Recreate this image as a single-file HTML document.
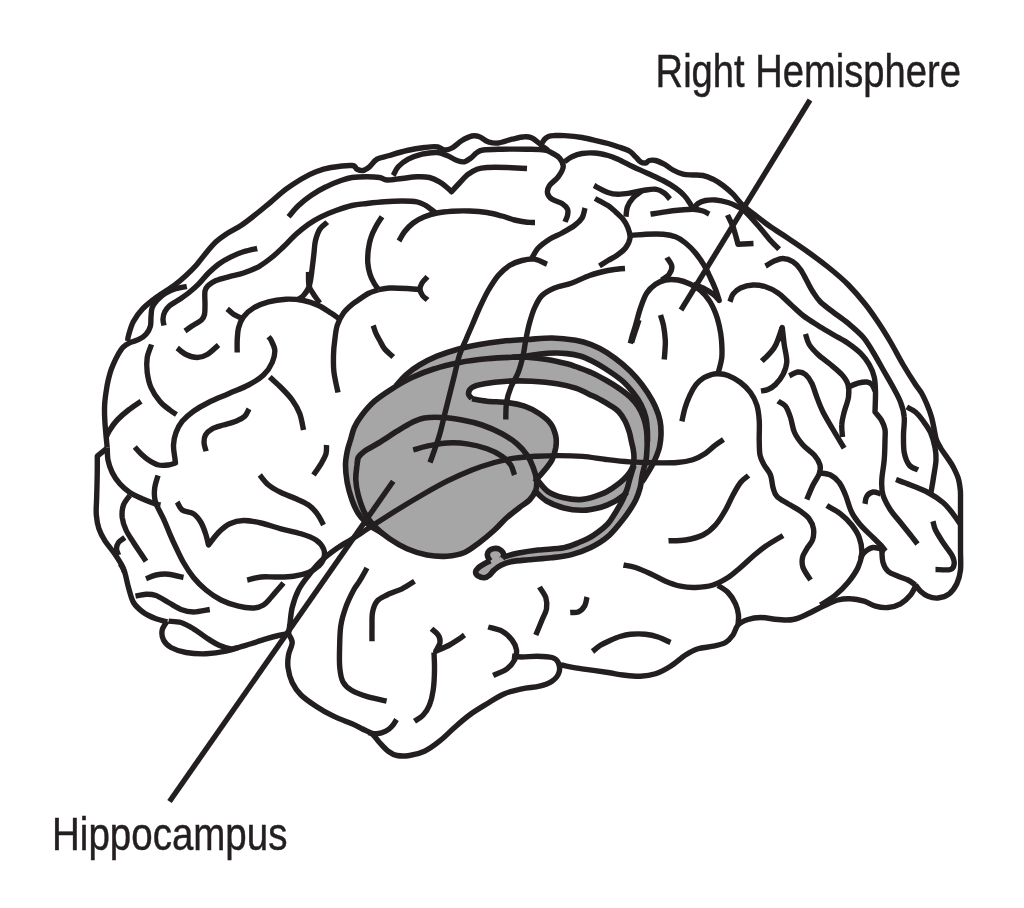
<!DOCTYPE html>
<html><head><meta charset="utf-8"><title>Brain</title>
<style>html,body{margin:0;padding:0;background:#fff}svg{display:block;will-change:transform}text{font-family:"Liberation Sans",sans-serif;fill:#231f20}</style></head><body>
<svg width="1024" height="908" viewBox="0 0 1024 908">
<rect width="1024" height="908" fill="#fff"/>
<path d="M395.8 386.2C398.0 384.0 401.8 378.5 405.8 375.0C409.7 371.5 414.3 368.1 419.5 365.0C424.7 361.9 430.8 358.8 437.0 356.2C443.2 353.7 449.9 351.5 457.0 349.5C464.1 347.5 472.0 345.9 479.5 344.5C487.0 343.1 494.1 342.1 502.0 341.2C509.9 340.4 518.7 340.0 527.0 339.5C535.3 339.0 543.9 337.9 552.0 338.0C560.1 338.1 569.1 339.2 575.6 340.3C582.1 341.4 586.0 342.6 591.2 344.6C596.5 346.7 601.7 349.3 606.9 352.6C612.1 355.9 617.6 360.0 622.5 364.2C627.4 368.4 632.3 373.1 636.5 377.8C640.7 382.5 644.4 387.7 647.5 392.5C650.6 397.3 653.2 401.8 655.3 406.5C657.4 411.2 659.0 415.9 660.0 420.6C661.0 425.3 661.1 430.3 661.0 434.7C660.9 439.1 660.2 443.6 659.5 447.0C658.8 450.4 657.9 452.4 656.9 455.0C655.9 457.6 654.7 460.3 653.4 462.9C652.1 465.5 650.5 468.3 649.0 470.8C647.5 473.3 645.8 476.0 644.6 477.9C643.4 479.8 642.5 482.1 642.0 482.0C641.5 481.9 641.6 479.2 641.9 477.0C642.2 474.8 643.0 471.8 643.7 469.0C644.4 466.2 645.5 463.0 646.0 460.2C646.5 457.4 646.5 455.0 646.8 452.0C647.0 449.0 647.4 445.7 647.5 442.0C647.6 438.3 647.6 434.1 647.3 430.0C647.0 425.9 646.8 421.7 645.8 417.5C644.8 413.3 643.3 409.1 641.2 405.0C639.2 400.9 636.5 397.0 633.4 393.0C630.3 389.0 627.2 385.1 622.5 381.0C617.8 376.9 610.1 371.8 605.0 368.5C599.9 365.2 596.2 363.1 592.0 361.0C587.8 358.9 584.2 357.2 580.0 356.0C575.8 354.8 571.2 354.1 567.0 353.6C562.8 353.1 559.5 352.9 555.0 353.0C550.5 353.1 544.7 353.5 540.0 354.0C535.3 354.5 531.7 355.4 527.0 356.0C522.3 356.6 514.5 357.1 512.0 357.3C509.5 357.5 516.2 357.1 512.0 357.3C507.8 357.5 495.8 357.9 487.0 358.8C478.2 359.6 468.2 360.8 459.5 362.5C450.8 364.2 442.4 366.2 434.5 368.8C426.6 371.2 419.1 374.2 412.0 377.5C404.9 380.8 394.7 387.3 392.0 388.8C389.3 390.2 393.5 388.5 395.8 386.2Z" fill="#a6a6a6" stroke="none"/>
<path d="M382.0 533.0C385.0 541.1 376.7 530.2 374.0 528.5C371.3 526.8 368.7 525.1 366.0 522.5C363.3 519.9 360.3 516.8 358.0 513.0C355.7 509.2 353.8 505.1 352.0 500.0C350.2 494.9 348.3 488.3 347.2 482.5C346.2 476.7 345.5 470.2 345.5 465.0C345.5 459.8 346.5 455.2 347.3 451.0C348.1 446.8 350.0 441.8 350.5 440.0C351.0 438.2 349.9 442.1 350.5 440.0C351.1 437.9 352.4 431.7 354.3 427.5C356.2 423.3 358.6 419.4 362.0 415.0C365.4 410.6 369.5 405.6 374.5 401.2C379.5 396.9 385.8 392.7 392.0 388.8C398.2 384.8 404.9 380.8 412.0 377.5C419.1 374.2 426.6 371.2 434.5 368.8C442.4 366.2 450.8 364.2 459.5 362.5C468.2 360.8 478.2 359.6 487.0 358.8C495.8 357.9 505.3 357.5 512.0 357.3C518.7 357.1 521.2 356.9 527.0 357.3C532.8 357.7 540.3 358.4 547.0 359.5C553.7 360.6 562.2 362.6 567.0 363.8C571.8 364.9 571.6 365.0 575.6 366.5C579.6 368.0 586.0 370.1 591.2 372.5C596.5 374.9 602.2 378.1 606.9 380.8C611.6 383.5 615.5 385.9 619.4 388.6C623.3 391.3 627.2 394.2 630.3 397.2C633.4 400.2 635.9 403.1 638.1 406.5C640.3 409.9 642.1 413.6 643.5 417.5C644.9 421.4 645.9 425.8 646.5 430.0C647.1 434.2 647.2 438.8 647.2 442.5C647.2 446.2 647.0 449.1 646.8 452.0C646.6 454.9 646.5 457.4 646.0 460.2C645.5 463.0 644.4 466.2 643.7 469.0C643.0 471.8 642.5 473.9 641.9 477.0C641.3 480.1 641.2 483.7 640.2 487.5C639.2 491.3 637.6 496.1 635.8 499.9C634.0 503.7 631.8 507.0 629.6 510.4C627.4 513.8 626.3 515.6 622.6 520.0C618.9 524.4 612.9 532.3 607.5 536.9C602.1 541.5 596.3 544.8 590.3 547.8C584.3 550.8 578.1 552.9 571.6 554.6C565.1 556.3 558.5 556.9 551.2 557.8C544.0 558.7 535.1 559.1 528.4 559.8C521.7 560.4 515.4 560.8 510.8 561.7C506.2 562.6 503.8 563.8 501.0 565.2C498.2 566.6 496.1 568.3 494.2 570.0C492.2 571.7 490.9 574.1 489.3 575.4C487.7 576.7 486.3 577.7 484.4 577.8C482.5 577.9 479.5 576.9 478.0 575.9C476.5 574.9 475.5 573.4 475.6 572.0C475.7 570.6 477.0 569.0 478.5 567.6C480.0 566.2 482.4 564.8 484.4 563.7C486.4 562.6 489.3 561.3 490.3 560.8C491.3 560.3 490.6 561.2 490.3 560.8C490.0 560.4 489.0 559.6 488.5 558.5C488.0 557.4 487.2 555.7 487.3 554.4C487.4 553.1 488.2 551.5 489.3 550.5C490.4 549.5 492.6 548.8 494.2 548.5C495.8 548.2 497.5 548.3 499.0 549.0C500.5 549.7 502.2 551.2 503.0 552.5C503.8 553.8 503.8 556.2 504.0 556.9C504.2 557.6 501.6 557.5 504.0 556.9C506.4 556.2 512.9 554.1 518.6 553.0C524.3 551.9 530.6 550.9 538.1 550.0C545.6 549.1 556.9 549.1 563.8 547.8C570.6 546.5 574.5 544.4 579.4 542.3C584.3 540.2 588.7 538.3 593.4 535.3C598.1 532.2 603.9 527.8 607.6 524.0C611.3 520.2 613.0 516.4 615.5 512.4C618.0 508.4 620.7 503.8 622.6 499.9C624.5 496.0 625.8 492.7 627.0 489.3C628.2 485.9 628.7 482.7 629.6 479.6C630.5 476.5 631.6 473.2 632.3 470.8C633.0 468.4 634.5 464.0 634.0 465.5C633.5 467.0 630.8 475.6 629.6 479.6C628.4 483.6 627.4 487.2 627.0 489.3C626.6 491.4 627.6 491.0 627.0 492.0C626.4 493.0 625.6 493.9 623.5 495.5C621.4 497.1 618.3 499.7 614.6 501.6C610.9 503.6 606.6 505.8 601.2 507.2C595.9 508.6 588.8 510.2 582.5 510.3C576.2 510.4 569.7 509.6 563.8 508.0C557.8 506.4 551.3 503.8 546.6 501.0C541.9 498.2 537.3 493.3 535.5 491.5C533.7 489.7 536.8 488.6 535.8 490.0C534.8 491.4 532.2 497.1 529.5 500.0C526.8 502.9 523.2 504.6 519.5 507.5C515.8 510.4 511.2 513.8 507.0 517.5C502.8 521.2 499.1 525.8 494.5 530.0C489.9 534.2 484.5 538.8 479.5 542.5C474.5 546.2 469.9 550.2 464.5 552.5C459.1 554.8 453.2 555.8 447.0 556.2C440.8 556.7 433.7 556.2 427.0 555.0C420.3 553.8 413.2 551.5 407.0 548.8C400.8 546.0 394.9 542.5 389.5 538.8C384.1 535.0 378.7 530.6 374.5 526.2C370.3 521.9 367.2 517.7 364.5 512.5C361.8 507.3 359.7 500.4 358.2 495.0C356.8 489.6 351.8 473.7 355.8 480.0C359.7 486.3 379.0 524.9 382.0 533.0Z" fill="#a6a6a6" stroke="none"/>
<path d="M472.0 398.8C471.4 397.9 468.5 395.6 468.5 393.8C468.5 391.9 469.3 389.2 472.0 387.5C474.7 385.8 478.7 384.8 484.5 383.8C490.3 382.7 499.1 381.7 507.0 381.2C514.9 380.8 523.7 380.8 532.0 381.2C540.3 381.7 549.7 382.6 557.0 383.8C564.3 384.9 569.9 386.3 575.6 388.2C581.3 390.1 587.0 393.2 591.2 395.2C595.5 397.2 597.9 398.3 601.0 400.0C604.1 401.7 607.1 403.4 610.0 405.3C612.9 407.2 616.0 408.9 618.5 411.5C621.0 414.1 623.2 417.6 625.0 421.0C626.8 424.4 628.2 428.7 629.3 432.0C630.3 435.3 630.7 438.2 631.3 441.0C631.9 443.8 632.6 446.0 633.1 448.8C633.6 451.6 634.0 454.8 634.0 457.6C634.0 460.4 633.8 463.0 633.1 465.5C632.4 468.0 631.2 470.2 629.6 472.6C628.0 475.0 626.0 477.2 623.5 479.6C621.0 482.0 618.3 484.3 614.6 486.7C610.9 489.1 606.6 492.1 601.2 494.2C595.9 496.3 588.8 498.8 582.5 499.4C576.2 500.0 569.5 499.1 563.8 497.8C558.0 496.5 552.2 494.4 548.0 491.6C543.8 488.8 539.9 483.4 538.2 481.0C536.6 478.6 537.0 479.5 538.2 477.5C539.5 475.5 543.5 471.7 545.8 468.8C548.0 465.8 550.3 463.5 552.0 460.0C553.7 456.5 555.1 451.5 555.8 447.5C556.4 443.5 556.6 440.2 555.8 436.2C554.9 432.3 553.5 427.5 550.8 423.8C548.0 420.0 543.9 416.7 539.5 413.8C535.1 410.8 529.9 408.1 524.5 406.2C519.1 404.4 513.2 403.3 507.0 402.5C500.8 401.7 492.8 401.9 487.0 401.2C481.2 400.6 474.5 399.2 472.0 398.8C469.5 398.3 472.6 399.6 472.0 398.8Z" fill="#ffffff" stroke="none"/>
<g fill="none" stroke="#231f20" stroke-width="5.4" stroke-linecap="butt" stroke-linejoin="round">
<path d="M395.8 386.2C397.4 384.4 401.8 378.5 405.8 375.0C409.7 371.5 414.3 368.1 419.5 365.0C424.7 361.9 430.8 358.8 437.0 356.2C443.2 353.7 449.9 351.5 457.0 349.5C464.1 347.5 472.0 345.9 479.5 344.5C487.0 343.1 494.1 342.1 502.0 341.2C509.9 340.4 518.7 340.0 527.0 339.5C535.3 339.0 543.9 337.9 552.0 338.0C560.1 338.1 569.1 339.2 575.6 340.3C582.1 341.4 586.0 342.6 591.2 344.6C596.5 346.7 601.7 349.3 606.9 352.6C612.1 355.9 617.6 360.0 622.5 364.2C627.4 368.4 632.3 373.1 636.5 377.8C640.7 382.5 644.4 387.7 647.5 392.5C650.6 397.3 653.2 401.8 655.3 406.5C657.4 411.2 659.0 415.9 660.0 420.6C661.0 425.3 661.1 430.3 661.0 434.7C660.9 439.1 660.2 443.6 659.5 447.0C658.8 450.4 657.9 452.4 656.9 455.0C655.9 457.6 654.7 460.3 653.4 462.9C652.1 465.5 650.5 468.3 649.0 470.8C647.5 473.3 645.8 476.0 644.6 477.9C643.4 479.8 642.4 481.3 642.0 482.0" stroke-width="5.6"/>
<path d="M512.0 357.3C514.5 357.1 522.3 356.6 527.0 356.0C531.7 355.4 535.3 354.5 540.0 354.0C544.7 353.5 550.5 353.1 555.0 353.0C559.5 352.9 562.8 353.1 567.0 353.6C571.2 354.1 575.8 354.8 580.0 356.0C584.2 357.2 587.8 358.9 592.0 361.0C596.2 363.1 599.9 365.2 605.0 368.5C610.1 371.8 617.8 376.9 622.5 381.0C627.2 385.1 630.3 389.0 633.4 393.0C636.5 397.0 639.2 400.9 641.2 405.0C643.3 409.1 644.8 413.3 645.8 417.5C646.8 421.7 647.0 425.9 647.3 430.0C647.6 434.1 647.5 440.0 647.5 442.0" stroke-width="5.6"/>
<path d="M382.0 533.0C380.7 532.2 376.7 530.2 374.0 528.5C371.3 526.8 368.7 525.1 366.0 522.5C363.3 519.9 360.3 516.8 358.0 513.0C355.7 509.2 353.8 505.1 352.0 500.0C350.2 494.9 348.3 488.3 347.2 482.5C346.2 476.7 345.5 470.2 345.5 465.0C345.5 459.8 346.5 455.2 347.3 451.0C348.1 446.8 349.3 443.9 350.5 440.0C351.7 436.1 352.4 431.7 354.3 427.5C356.2 423.3 358.6 419.4 362.0 415.0C365.4 410.6 369.5 405.6 374.5 401.2C379.5 396.9 385.8 392.7 392.0 388.8C398.2 384.8 404.9 380.8 412.0 377.5C419.1 374.2 426.6 371.2 434.5 368.8C442.4 366.2 450.8 364.2 459.5 362.5C468.2 360.8 478.2 359.6 487.0 358.8C495.8 357.9 505.3 357.5 512.0 357.3C518.7 357.1 521.2 356.9 527.0 357.3C532.8 357.7 540.3 358.4 547.0 359.5C553.7 360.6 562.2 362.6 567.0 363.8C571.8 364.9 571.6 365.0 575.6 366.5C579.6 368.0 586.0 370.1 591.2 372.5C596.5 374.9 602.2 378.1 606.9 380.8C611.6 383.5 615.5 385.9 619.4 388.6C623.3 391.3 627.2 394.2 630.3 397.2C633.4 400.2 635.9 403.1 638.1 406.5C640.3 409.9 642.1 413.6 643.5 417.5C644.9 421.4 645.9 425.8 646.5 430.0C647.1 434.2 647.2 438.8 647.2 442.5C647.2 446.2 647.0 449.1 646.8 452.0C646.6 454.9 646.5 457.4 646.0 460.2C645.5 463.0 644.4 466.2 643.7 469.0C643.0 471.8 642.5 473.9 641.9 477.0C641.3 480.1 641.2 483.7 640.2 487.5C639.2 491.3 637.6 496.1 635.8 499.9C634.0 503.7 631.8 507.0 629.6 510.4C627.4 513.8 626.3 515.6 622.6 520.0C618.9 524.4 612.9 532.3 607.5 536.9C602.1 541.5 596.3 544.8 590.3 547.8C584.3 550.8 578.1 552.9 571.6 554.6C565.1 556.3 558.5 556.9 551.2 557.8C544.0 558.7 535.1 559.1 528.4 559.8C521.7 560.4 515.4 560.8 510.8 561.7C506.2 562.6 503.8 563.8 501.0 565.2C498.2 566.6 496.1 568.3 494.2 570.0C492.2 571.7 490.9 574.1 489.3 575.4C487.7 576.7 486.3 577.7 484.4 577.8C482.5 577.9 479.5 576.9 478.0 575.9C476.5 574.9 475.5 573.4 475.6 572.0C475.7 570.6 477.0 569.0 478.5 567.6C480.0 566.2 482.4 564.8 484.4 563.7C486.4 562.6 489.3 561.3 490.3 560.8" stroke-width="5.6"/>
<path d="M490.3 560.8C490.0 560.4 489.0 559.6 488.5 558.5C488.0 557.4 487.2 555.7 487.3 554.4C487.4 553.1 488.2 551.5 489.3 550.5C490.4 549.5 492.6 548.8 494.2 548.5C495.8 548.2 497.5 548.3 499.0 549.0C500.5 549.7 502.2 551.2 503.0 552.5C503.8 553.8 503.8 556.2 504.0 556.9" stroke-width="5.6"/>
<path d="M502.5 558.5C502.8 558.2 501.3 557.8 504.0 556.9C506.7 556.0 512.9 554.1 518.6 553.0C524.3 551.9 530.6 550.9 538.1 550.0C545.6 549.1 556.9 549.1 563.8 547.8C570.6 546.5 574.5 544.4 579.4 542.3C584.3 540.2 588.7 538.3 593.4 535.3C598.1 532.2 603.9 527.8 607.6 524.0C611.3 520.2 613.0 516.4 615.5 512.4C618.0 508.4 620.7 503.8 622.6 499.9C624.5 496.0 625.8 492.7 627.0 489.3C628.2 485.9 628.7 482.7 629.6 479.6C630.5 476.5 631.6 473.2 632.3 470.8C633.0 468.4 633.7 466.4 634.0 465.5" stroke-width="5.6"/>
<path d="M472.0 398.8C471.4 397.9 468.5 395.6 468.5 393.8C468.5 391.9 469.3 389.2 472.0 387.5C474.7 385.8 478.7 384.8 484.5 383.8C490.3 382.7 499.1 381.7 507.0 381.2C514.9 380.8 523.7 380.8 532.0 381.2C540.3 381.7 549.7 382.6 557.0 383.8C564.3 384.9 569.9 386.3 575.6 388.2C581.3 390.1 587.0 393.2 591.2 395.2C595.5 397.2 597.9 398.3 601.0 400.0C604.1 401.7 607.1 403.4 610.0 405.3C612.9 407.2 616.0 408.9 618.5 411.5C621.0 414.1 623.2 417.6 625.0 421.0C626.8 424.4 628.2 428.7 629.3 432.0C630.3 435.3 630.7 438.2 631.3 441.0C631.9 443.8 632.6 446.0 633.1 448.8C633.6 451.6 634.0 454.8 634.0 457.6C634.0 460.4 633.8 463.0 633.1 465.5C632.4 468.0 631.2 470.2 629.6 472.6C628.0 475.0 626.0 477.2 623.5 479.6C621.0 482.0 618.3 484.3 614.6 486.7C610.9 489.1 606.6 492.1 601.2 494.2C595.9 496.3 588.8 498.8 582.5 499.4C576.2 500.0 569.5 499.1 563.8 497.8C558.0 496.5 552.2 494.4 548.0 491.6C543.8 488.8 539.9 482.8 538.2 481.0" stroke-width="5.6"/>
<path d="M472.0 398.8C474.5 399.2 481.2 400.6 487.0 401.2C492.8 401.9 500.8 401.7 507.0 402.5C513.2 403.3 519.1 404.4 524.5 406.2C529.9 408.1 535.1 410.8 539.5 413.8C543.9 416.7 548.0 420.0 550.8 423.8C553.5 427.5 554.9 432.3 555.8 436.2C556.6 440.2 556.4 443.5 555.8 447.5C555.1 451.5 553.7 456.5 552.0 460.0C550.3 463.5 548.0 465.8 545.8 468.8C543.5 471.7 540.0 475.3 538.2 477.5C536.5 479.7 535.5 481.2 535.0 482.0" stroke-width="5.6"/>
<path d="M627.0 492.0C626.4 492.6 625.6 493.9 623.5 495.5C621.4 497.1 618.3 499.7 614.6 501.6C610.9 503.6 606.6 505.8 601.2 507.2C595.9 508.6 588.8 510.2 582.5 510.3C576.2 510.4 569.7 509.6 563.8 508.0C557.8 506.4 551.3 503.8 546.6 501.0C541.9 498.2 537.4 493.1 535.5 491.5" stroke-width="5.6"/>
<path d="M357.0 465.0C357.2 463.8 357.0 459.8 358.2 457.5C359.5 455.2 361.0 453.8 364.5 451.2C368.0 448.8 374.1 445.8 379.5 442.5C384.9 439.2 391.6 434.6 397.0 431.2C402.4 427.9 407.4 424.7 412.0 422.5C416.6 420.3 419.5 418.8 424.5 418.0C429.5 417.2 435.8 417.2 442.0 417.5C448.2 417.8 455.3 418.8 462.0 420.0C468.7 421.2 475.3 422.7 482.0 425.0C488.7 427.3 496.2 430.6 502.0 433.8C507.8 436.9 512.8 440.2 517.0 443.8C521.2 447.3 524.3 451.0 527.0 455.0C529.7 459.0 531.7 463.3 533.2 467.5C534.8 471.7 536.1 476.2 536.5 480.0C536.9 483.8 536.9 486.7 535.8 490.0C534.6 493.3 532.2 497.1 529.5 500.0C526.8 502.9 523.2 504.6 519.5 507.5C515.8 510.4 511.2 513.8 507.0 517.5C502.8 521.2 499.1 525.8 494.5 530.0C489.9 534.2 484.5 538.8 479.5 542.5C474.5 546.2 469.9 550.2 464.5 552.5C459.1 554.8 453.2 555.8 447.0 556.2C440.8 556.7 433.7 556.2 427.0 555.0C420.3 553.8 413.2 551.5 407.0 548.8C400.8 546.0 394.9 542.5 389.5 538.8C384.1 535.0 378.7 530.6 374.5 526.2C370.3 521.9 367.2 517.7 364.5 512.5C361.8 507.3 359.7 500.4 358.2 495.0C356.8 489.6 356.0 485.0 355.8 480.0C355.5 475.0 356.6 468.8 357.0 465.0C357.4 461.2 358.0 458.8 358.2 457.5" stroke-width="5.6"/>
<path d="M124.8 572.5C124.3 571.4 123.7 568.8 122.0 565.6C120.3 562.4 117.1 557.4 114.3 553.3C111.5 549.2 107.6 545.0 105.0 540.9C102.4 536.8 100.4 533.0 98.9 528.6C97.5 524.2 96.7 519.6 96.3 514.7C95.9 509.8 96.4 505.7 96.6 499.3C96.8 492.9 97.1 482.2 97.2 476.2C97.3 470.1 97.3 466.3 97.3 463.0C97.3 459.7 97.3 457.3 97.3 456.2L106.8 448.3"/>
<path d="M107.2 447.5C107.0 445.4 106.4 439.6 106.0 435.0C105.6 430.4 105.0 425.4 104.8 420.0C104.5 414.6 104.3 408.3 104.8 402.5C105.2 396.7 106.4 389.9 107.2 385.0C108.1 380.1 109.0 376.7 110.0 373.2C111.0 369.7 112.1 366.9 113.5 363.8C114.9 360.7 116.6 357.1 118.2 354.4C119.8 351.7 121.0 349.3 122.9 347.4C124.9 345.4 127.2 344.1 129.9 342.7C132.6 341.3 136.6 340.7 139.3 339.2C142.0 337.7 144.5 336.0 146.3 333.9C148.2 331.8 149.6 329.1 150.4 326.3C151.2 323.5 150.7 320.0 151.0 316.9C151.3 313.8 151.2 310.2 152.2 307.5C153.2 304.8 154.8 302.9 156.9 300.5C159.1 298.1 162.0 295.3 165.1 293.4C168.2 291.4 172.0 290.0 175.6 288.8C179.2 287.6 184.9 286.8 186.8 286.4"/>
<path d="M127.6 340.9C127.8 339.8 127.8 337.7 128.8 334.5C129.8 331.3 131.1 325.9 133.4 321.6C135.7 317.3 138.9 312.8 142.8 308.7C146.7 304.6 151.6 300.9 156.9 297.0C162.2 293.1 169.7 288.8 174.5 285.2C179.3 281.6 182.4 278.8 186.0 275.5C189.6 272.2 192.7 269.2 196.0 265.5C199.3 261.8 202.7 257.0 206.0 253.0C209.3 249.0 212.7 244.9 216.0 241.8C219.3 238.6 221.8 237.0 226.0 234.2C230.2 231.5 236.0 228.8 241.0 225.5C246.0 222.2 251.0 218.2 256.0 214.2C261.0 210.3 266.0 205.9 271.0 201.8C276.0 197.6 281.0 193.0 286.0 189.2C291.0 185.5 296.0 182.2 301.0 179.2C306.0 176.3 311.0 173.7 316.0 171.8C321.0 169.8 325.0 168.5 331.0 167.5C337.0 166.5 347.7 165.2 352.0 165.5C356.3 165.8 355.1 168.4 357.0 169.2C358.9 170.1 361.2 170.9 363.2 170.5C365.3 170.1 367.2 168.6 369.5 166.8C371.8 164.9 373.7 161.1 377.0 159.2C380.3 157.4 384.5 157.0 389.5 155.5C394.5 154.0 401.2 151.8 407.0 150.5C412.8 149.2 419.5 148.1 424.5 147.5C429.5 146.9 433.7 146.3 437.0 146.8C440.3 147.2 442.0 149.8 444.5 150.0C447.0 150.2 449.1 149.6 452.0 148.0C454.9 146.4 458.7 142.5 462.0 140.5C465.3 138.5 469.1 136.6 472.0 136.0C474.9 135.4 476.8 135.8 479.5 136.8C482.2 137.7 485.1 140.7 488.2 141.8C491.4 142.8 494.3 143.4 498.2 143.0C502.2 142.6 507.6 140.3 512.0 139.2C516.4 138.2 521.2 137.0 524.5 136.8C527.8 136.5 529.7 137.0 532.0 138.0C534.3 139.0 536.4 141.0 538.2 142.5C540.1 144.0 541.6 145.4 543.2 146.8C544.9 148.1 547.4 149.9 548.2 150.5"/>
<path d="M542.0 143.0C542.5 142.3 543.7 140.1 544.8 139.0C545.9 137.9 547.0 137.0 548.5 136.4C550.0 135.8 551.3 135.7 554.0 135.6C556.7 135.5 559.8 135.3 564.5 135.6C569.2 135.9 576.6 136.6 582.0 137.5C587.4 138.4 592.7 139.8 597.0 140.8C601.3 141.8 604.5 142.5 608.0 143.5C611.5 144.5 614.5 145.5 618.0 146.8C621.5 148.0 626.3 149.3 629.2 151.0C632.2 152.7 633.6 155.0 635.5 156.8C637.4 158.5 638.8 160.7 640.5 161.8C642.2 162.8 644.0 163.2 645.5 163.0C647.0 162.8 647.6 160.9 649.2 160.5C650.9 160.1 653.0 159.9 655.5 160.5C658.0 161.1 661.3 162.7 664.2 164.2C667.2 165.8 669.9 168.3 673.0 170.0C676.1 171.7 679.7 173.4 683.0 174.2C686.3 175.1 689.7 174.8 693.0 175.0C696.3 175.2 699.7 174.8 703.0 175.5C706.3 176.2 709.7 177.6 713.0 179.2C716.3 180.9 719.7 183.0 723.0 185.5C726.3 188.0 729.7 190.9 733.0 194.2C736.3 197.6 739.2 202.0 743.0 205.5C746.8 209.0 750.9 212.0 755.5 215.5C760.1 219.0 765.1 223.0 770.5 226.8C775.9 230.5 781.8 234.0 788.0 238.2C794.2 242.5 801.3 247.2 808.0 252.0C814.7 256.8 821.3 261.6 828.0 267.0C834.7 272.4 841.8 278.2 848.0 284.5C854.2 290.8 860.5 298.2 865.5 304.5C870.5 310.8 873.8 315.8 878.0 322.0C882.2 328.2 886.3 334.9 890.5 342.0C894.7 349.1 898.8 357.4 903.0 364.5C907.2 371.6 912.4 379.8 915.5 384.5C918.6 389.2 919.6 389.7 921.5 393.0C923.4 396.3 925.3 400.5 927.0 404.5C928.7 408.5 930.3 412.8 931.5 417.0C932.7 421.2 933.5 426.2 934.3 430.0C935.1 433.8 935.4 436.9 936.5 440.0C937.6 443.1 939.1 445.5 941.0 448.6C942.9 451.7 945.7 455.2 947.8 458.4C949.9 461.5 951.8 464.1 953.5 467.5C955.2 470.9 957.2 474.8 958.3 478.5C959.4 482.2 959.9 486.4 960.3 490.0C960.7 493.6 960.5 494.2 960.5 500.0C960.5 505.8 960.5 516.7 960.5 525.0C960.5 533.3 960.5 542.5 960.5 550.0C960.5 557.5 961.1 564.4 960.5 570.0C959.9 575.6 958.6 579.8 956.8 583.8C954.9 587.7 952.4 591.4 949.2 593.8C946.1 596.1 941.5 597.6 938.0 598.0C934.5 598.4 930.9 597.4 928.0 596.2C925.1 595.1 922.6 593.1 920.5 591.2C918.4 589.4 916.3 586.0 915.5 585.0"/>
<path d="M916.8 583.8C915.7 585.6 913.2 591.7 910.5 595.0C907.8 598.3 904.2 601.7 900.5 603.8C896.8 605.8 892.2 607.1 888.0 607.5C883.8 607.9 879.5 607.3 875.5 606.2C871.5 605.2 868.2 602.5 864.0 601.2C859.8 600.0 854.8 599.0 850.5 598.8C846.2 598.5 842.6 598.8 838.0 600.0C833.4 601.2 828.0 604.0 823.0 606.2C818.0 608.5 813.0 611.5 808.0 613.8C803.0 616.0 798.0 618.5 793.0 619.5C788.0 620.5 783.4 619.8 778.0 619.5C772.6 619.2 765.5 617.5 760.5 617.5C755.5 617.5 751.8 618.2 748.0 619.5C744.2 620.8 740.5 622.4 738.0 625.0C735.5 627.6 735.1 632.1 733.0 635.0C730.9 637.9 728.8 640.6 725.5 642.5C722.2 644.4 717.6 645.2 713.0 646.2C708.4 647.3 702.6 647.3 698.0 648.8C693.4 650.2 690.1 652.1 685.5 655.0C680.9 657.9 675.5 663.1 670.5 666.2C665.5 669.4 660.5 672.1 655.5 673.8C650.5 675.4 645.9 676.0 640.5 676.2C635.1 676.5 628.4 675.6 623.0 675.0C617.6 674.4 614.8 673.5 608.0 672.5C601.2 671.5 589.9 670.0 582.0 668.8C574.1 667.5 564.3 665.6 560.8 665.0"/>
<path d="M512.0 656.2C513.7 656.4 517.8 657.0 522.0 657.0C526.2 657.0 532.0 656.2 537.0 656.2C542.0 656.3 548.5 656.5 552.0 657.5C555.5 658.5 557.1 660.0 558.2 662.5C559.4 665.0 560.0 669.4 559.0 672.5C558.0 675.6 555.2 679.0 552.0 681.2C548.8 683.5 544.5 685.0 539.5 686.2C534.5 687.5 527.8 687.5 522.0 688.8C516.2 690.0 510.3 691.2 504.5 693.8C498.7 696.2 492.8 700.2 487.0 703.8C481.2 707.3 474.9 711.0 469.5 715.0C464.1 719.0 459.5 723.1 454.5 727.5C449.5 731.9 444.5 737.3 439.5 741.2C434.5 745.2 429.5 748.9 424.5 751.2C419.5 753.6 414.1 754.8 409.5 755.5C404.9 756.2 400.5 756.2 397.0 755.5C393.5 754.8 391.2 753.4 388.2 751.2C385.3 749.1 382.2 745.4 379.5 742.5C376.8 739.6 374.9 736.0 372.0 733.8C369.1 731.5 365.3 730.4 362.0 728.8C358.7 727.1 356.8 725.8 352.0 723.8C347.2 721.7 339.5 719.2 333.5 716.2C327.5 713.3 321.4 709.8 316.0 706.2C310.6 702.7 305.0 699.0 301.0 695.0C297.0 691.0 294.4 687.1 292.2 682.5C290.1 677.9 288.6 672.1 288.0 667.5C287.4 662.9 287.8 659.2 288.5 655.0C289.2 650.8 292.2 646.0 292.2 642.5C292.2 639.0 289.1 635.2 288.5 633.8"/>
<path d="M288.5 633.8C286.8 634.0 282.2 634.7 278.5 635.5C274.8 636.3 270.6 637.4 266.0 638.8C261.4 640.1 255.6 642.3 251.0 643.8C246.4 645.2 242.7 646.2 238.5 647.5C234.3 648.8 231.4 650.2 226.0 651.2C220.6 652.3 212.7 653.5 206.0 653.8C199.3 654.0 191.8 653.5 186.0 652.5C180.2 651.5 174.8 649.6 171.0 647.5C167.2 645.4 165.0 642.9 163.5 640.0C162.0 637.1 161.6 633.1 162.2 630.0C162.9 626.9 166.4 622.7 167.2 621.2"/>
<path d="M168.5 621.2C170.6 621.5 176.8 621.2 181.0 622.5C185.2 623.8 189.3 626.2 193.5 628.8C197.7 631.2 201.8 634.8 206.0 637.5C210.2 640.2 214.3 643.1 218.5 645.0C222.7 646.9 227.7 648.3 231.0 648.8C234.3 649.2 237.2 647.7 238.5 647.5"/>
<path d="M167.2 621.8C165.4 621.2 160.0 620.3 156.0 618.8C152.0 617.2 147.2 615.2 143.5 612.5C139.8 609.8 136.0 606.7 133.5 602.5C131.0 598.3 130.0 592.5 128.5 587.5C127.0 582.5 126.1 576.4 124.8 572.5C123.4 568.6 121.2 565.4 120.5 564.0"/>
<path d="M288.5 216.8C290.2 214.9 294.8 209.0 298.5 205.5C302.2 202.0 306.4 198.6 311.0 195.5C315.6 192.4 321.0 189.2 326.0 186.8C331.0 184.2 336.7 182.0 341.0 180.5C345.3 179.0 347.7 178.1 352.0 177.5C356.3 176.9 362.4 176.8 367.0 176.8C371.6 176.8 376.2 177.0 379.5 177.5C382.8 178.0 383.2 179.8 387.0 180.0C390.8 180.2 397.0 179.0 402.0 178.5C407.0 178.0 412.4 176.9 417.0 176.8C421.6 176.6 425.8 176.7 429.5 177.5C433.2 178.3 436.6 180.1 439.5 181.8C442.4 183.4 445.0 185.8 447.0 187.5C449.0 189.2 450.8 191.0 451.5 191.8C452.8 190.3 456.7 185.9 459.5 183.0C462.3 180.1 465.3 176.5 468.2 174.2C471.2 172.0 473.9 170.4 477.0 169.2C480.1 168.1 482.0 167.8 487.0 167.5C492.0 167.2 500.3 167.3 507.0 167.5C513.7 167.7 523.7 168.3 527.0 168.5"/>
<path d="M435.8 213.0C435.1 212.5 433.7 211.2 432.0 210.0C430.3 208.8 428.2 206.9 425.8 205.5C423.2 204.1 421.0 202.5 417.0 201.8C413.0 201.0 407.4 201.0 402.0 201.0C396.6 201.0 390.3 201.3 384.5 201.8C378.7 202.2 372.4 202.9 367.0 203.5C361.6 204.1 357.2 204.3 352.0 205.5C346.8 206.7 341.2 208.6 336.0 210.5C330.8 212.4 325.6 214.5 321.0 216.8C316.4 219.0 312.7 221.3 308.5 224.2C304.3 227.2 300.2 230.5 296.0 234.2C291.8 238.0 287.7 242.8 283.5 246.8C279.3 250.7 275.2 254.7 271.0 258.0C266.8 261.3 263.1 264.2 258.5 266.8C253.9 269.2 248.5 271.3 243.5 273.0C238.5 274.7 233.1 275.5 228.5 276.8C223.9 278.0 219.3 279.1 216.0 280.5C212.7 281.9 210.3 283.6 208.5 285.3C206.7 287.1 205.6 287.7 205.0 291.0C204.4 294.3 205.1 301.1 205.0 305.0C204.9 308.9 205.1 312.0 204.5 314.5C203.9 317.0 203.6 318.1 201.5 320.0C199.4 321.9 194.8 324.2 192.0 326.0C189.2 327.8 186.2 330.2 185.0 331.0"/>
<path d="M257.2 248.5C255.0 249.0 247.9 250.4 243.5 251.8C239.1 253.1 235.2 254.7 231.0 256.8C226.8 258.8 222.2 261.5 218.5 264.2C214.8 267.0 211.8 269.7 208.5 273.0C205.2 276.3 201.8 280.9 198.5 284.2C195.2 287.6 191.8 290.4 188.5 293.0C185.2 295.6 181.6 297.9 178.5 300.0C175.4 302.1 172.0 303.5 169.8 305.5C167.5 307.5 165.9 309.5 164.8 311.8C163.6 314.0 163.1 317.0 163.0 319.2C162.9 321.5 163.8 324.5 164.0 325.5"/>
<path d="M327.2 222.2C326.0 223.4 321.7 226.2 319.8 229.2C317.8 232.3 316.5 236.5 315.5 240.5C314.5 244.5 314.5 248.4 314.0 253.0C313.5 257.6 312.8 263.4 312.2 268.0C311.7 272.6 311.1 277.2 310.5 280.5C309.9 283.8 309.7 285.5 308.5 288.0C307.3 290.5 305.2 293.6 303.5 295.5C301.8 297.4 299.3 298.6 298.5 299.2"/>
<path d="M308.5 271.8C308.6 274.0 308.2 281.8 309.0 285.5C309.8 289.2 311.7 291.3 313.5 294.2C315.3 297.2 318.7 301.5 319.8 303.0"/>
<path d="M237.2 352.5C237.2 350.4 237.0 344.1 237.2 340.0C237.5 335.9 237.5 331.9 238.5 328.0C239.5 324.1 241.0 320.1 243.5 316.8C246.0 313.4 249.3 310.5 253.5 308.0C257.7 305.5 263.1 303.2 268.5 301.8C273.9 300.3 280.2 299.5 286.0 299.2C291.8 299.0 298.1 299.5 303.5 300.5C308.9 301.5 313.9 303.4 318.5 305.5C323.1 307.6 327.5 310.7 331.0 313.0C334.5 315.3 338.3 318.2 339.8 319.2"/>
<path d="M227.2 308.8C228.3 309.7 231.0 312.6 233.5 314.2C236.0 315.9 240.8 317.8 242.2 318.5"/>
<path d="M378.2 289.8C376.6 290.4 371.4 291.9 368.2 293.5C365.1 295.1 362.2 297.4 359.5 299.2C356.8 301.1 354.7 302.2 352.0 304.5C349.3 306.8 346.0 309.5 343.5 313.0C341.0 316.5 338.7 321.0 337.2 325.5C335.8 330.0 335.4 335.1 334.8 340.0C334.1 344.9 333.6 349.6 333.5 355.0C333.4 360.4 333.2 366.2 334.0 372.5C334.8 378.8 337.3 389.2 338.0 392.5"/>
<path d="M393.2 175.5C394.1 174.0 395.8 169.5 398.2 166.8C400.8 164.0 404.3 161.3 408.2 159.2C412.2 157.2 417.2 155.4 422.0 154.2C426.8 153.1 432.8 152.3 437.0 152.5C441.2 152.7 443.7 154.2 447.0 155.5C450.3 156.8 454.1 159.5 457.0 160.5C459.9 161.5 462.2 162.2 464.5 161.8C466.8 161.3 468.7 159.5 470.8 158.0C472.8 156.5 474.9 153.8 477.0 152.5C479.1 151.2 479.1 150.5 483.2 150.0C487.4 149.5 494.7 149.4 502.0 149.2C509.3 149.1 519.9 149.1 527.0 149.2C534.1 149.4 540.3 149.4 544.5 150.0C548.7 150.6 549.5 151.7 552.0 153.0C554.5 154.3 557.6 155.7 559.5 158.0C561.4 160.3 563.5 163.6 563.2 166.8C563.0 169.9 560.5 173.6 558.2 176.8C556.0 179.9 551.3 182.8 549.5 185.5C547.7 188.2 547.1 190.7 547.5 193.0C547.9 195.3 549.6 197.5 552.0 199.2C554.4 201.0 559.4 201.8 562.0 203.5C564.6 205.2 566.6 207.2 567.5 209.2C568.4 211.2 567.9 213.4 567.5 215.5C567.1 217.6 565.4 220.7 565.0 221.8"/>
<path d="M399.0 241.0C399.9 239.5 402.1 234.8 404.5 231.8C406.9 228.8 409.9 225.5 413.2 223.0C416.6 220.5 420.5 218.4 424.5 216.8C428.5 215.1 432.4 213.9 437.0 213.0C441.6 212.1 446.6 211.6 452.0 211.2C457.4 210.9 463.7 210.8 469.5 211.0C475.3 211.2 481.6 211.7 487.0 212.5C492.4 213.3 497.4 214.8 502.0 216.0C506.6 217.2 510.3 219.0 514.5 220.0C518.7 221.0 523.6 221.8 527.0 222.2C530.4 222.7 533.7 222.5 535.0 222.5"/>
<path d="M382.0 216.8C381.0 218.4 377.6 223.2 375.8 226.8C373.9 230.3 372.0 234.0 370.8 238.0C369.5 242.0 368.8 246.3 368.2 250.5C367.8 254.7 367.5 259.0 367.8 263.0C368.0 267.0 369.0 270.9 370.0 274.2C371.0 277.6 372.6 280.5 374.0 283.0C375.4 285.5 377.5 288.2 378.2 289.2"/>
<path d="M378.2 289.8C380.1 289.5 384.7 288.2 389.5 288.0C394.3 287.8 402.0 288.2 407.0 288.5C412.0 288.8 417.4 289.3 419.5 289.5"/>
<path d="M427.5 276.8C426.6 277.8 423.2 280.9 422.0 283.0C420.8 285.1 419.9 287.2 420.0 289.2C420.1 291.3 421.2 293.7 422.5 295.5C423.8 297.3 426.7 299.2 427.5 300.0"/>
<path d="M373.2 325.5C373.7 326.8 374.7 330.6 375.8 333.0C376.8 335.4 378.0 337.4 379.5 340.0C381.0 342.6 382.2 345.9 384.5 348.8C386.8 351.6 391.8 355.6 393.2 357.0"/>
<path d="M430.0 462.5C430.8 460.4 432.9 454.6 434.5 450.0C436.1 445.4 437.8 440.8 439.5 435.0C441.2 429.2 442.8 421.7 444.5 415.0C446.2 408.3 447.8 401.7 449.5 395.0C451.2 388.3 452.8 381.7 454.5 375.0C456.2 368.3 457.6 360.8 459.5 355.0C461.4 349.2 463.7 344.9 465.8 340.0C467.8 335.1 469.7 330.8 472.0 325.5C474.3 320.2 476.8 313.8 479.5 308.0C482.2 302.2 485.1 295.9 488.2 290.5C491.4 285.1 494.7 279.7 498.2 275.5C501.8 271.3 505.5 268.0 509.5 265.5C513.5 263.0 517.8 261.5 522.0 260.5C526.2 259.5 530.3 258.6 534.5 259.2C538.7 259.9 544.9 263.4 547.0 264.2"/>
<path d="M532.0 258.0C533.0 256.3 535.3 251.1 538.2 248.0C541.2 244.9 545.5 241.8 549.5 239.2C553.5 236.8 557.8 235.3 562.0 233.0C566.2 230.7 571.2 228.0 574.5 225.5C577.8 223.0 580.2 220.9 582.0 218.0C583.8 215.1 584.5 209.7 585.0 208.0"/>
<path d="M505.8 419.5C505.9 416.7 505.7 407.8 506.5 402.5C507.3 397.2 508.8 392.5 510.8 387.5C512.7 382.5 516.2 377.9 518.2 372.5C520.3 367.1 522.0 360.4 523.2 355.0C524.5 349.6 524.7 345.3 525.8 340.0C526.8 334.7 528.0 328.3 529.5 323.0C531.0 317.7 532.4 312.6 534.5 308.0C536.6 303.4 538.7 298.8 542.0 295.5C545.3 292.2 549.5 290.1 554.5 288.0C559.5 285.9 566.2 285.1 572.0 283.0C577.8 280.9 583.5 277.6 589.5 275.5C595.5 273.4 603.5 271.5 608.0 270.5C612.5 269.5 613.9 269.6 616.8 269.2C619.6 268.9 623.6 268.6 625.0 268.5"/>
<path d="M564.5 161.8C565.8 160.9 569.1 158.1 572.0 156.8C574.9 155.4 578.2 154.1 582.0 153.5C585.8 152.9 590.2 152.7 594.5 153.0C598.8 153.3 604.1 154.5 608.0 155.5C611.9 156.5 613.8 157.4 618.0 159.2C622.2 161.1 628.0 164.4 633.0 166.8C638.0 169.1 643.0 171.2 648.0 173.5C653.0 175.8 658.4 178.1 663.0 180.5C667.6 182.9 672.0 185.5 675.5 188.0C679.0 190.5 681.8 192.8 684.2 195.5C686.8 198.2 689.0 202.0 690.5 204.2C692.0 206.5 692.6 208.4 693.0 209.2"/>
<path d="M594.0 185.5C596.3 186.7 604.0 191.0 608.0 192.5C612.0 194.0 614.2 194.2 618.0 194.2C621.8 194.3 626.3 193.6 630.5 193.0C634.7 192.4 638.8 191.1 643.0 190.5C647.2 189.9 652.0 188.8 655.5 189.2C659.0 189.7 661.8 191.3 664.2 193.0C666.7 194.7 669.0 198.2 670.0 199.2"/>
<path d="M595.0 198.5C597.2 199.7 604.6 203.3 608.0 205.5C611.4 207.7 613.0 209.5 615.5 211.8C618.0 214.0 620.9 216.5 623.0 219.2C625.1 222.0 626.8 224.9 628.0 228.0C629.2 231.1 630.4 234.7 630.0 238.0C629.6 241.3 627.7 245.1 625.5 248.0C623.3 250.9 619.7 253.4 616.8 255.5C613.8 257.6 610.9 258.8 608.0 260.5C605.1 262.2 600.9 265.1 599.5 266.0"/>
<path d="M650.5 214.2C653.0 213.8 660.5 212.5 665.5 211.8C670.5 211.0 675.9 210.4 680.5 210.0C685.1 209.6 689.2 209.1 693.0 209.2C696.8 209.4 700.3 210.2 703.0 211.0C705.7 211.8 708.2 213.7 709.2 214.2"/>
<path d="M693.0 209.2C693.8 208.3 695.9 205.0 698.0 203.5C700.1 202.0 702.6 201.1 705.5 200.5C708.4 199.9 711.8 199.7 715.5 200.0C719.2 200.3 724.2 201.4 728.0 202.5C731.8 203.6 735.3 205.4 738.0 206.8C740.7 208.1 740.9 207.4 744.2 210.5C747.6 213.6 753.6 220.5 758.0 225.5C762.4 230.5 767.0 236.5 770.5 240.5C774.0 244.5 777.8 247.8 779.2 249.2"/>
<path d="M641.8 191.0C640.3 192.2 635.4 195.4 633.0 198.0C630.6 200.6 628.7 203.6 627.5 206.8C626.3 209.9 626.2 215.1 626.0 216.8"/>
<path d="M630.0 235.5C632.6 235.3 640.0 234.5 645.5 234.2C651.0 234.0 658.0 233.8 663.0 234.2C668.0 234.7 671.8 235.3 675.5 236.8C679.2 238.2 682.2 240.3 685.5 243.0C688.8 245.7 692.4 249.2 695.5 253.0C698.6 256.8 701.8 261.3 704.2 265.5C706.8 269.7 708.6 274.0 710.5 278.0C712.4 282.0 714.0 285.5 715.5 289.2C717.0 293.0 718.6 298.6 719.2 300.5C718.2 299.5 715.7 296.3 713.0 294.2C710.3 292.2 706.3 289.7 703.0 288.0C699.7 286.3 694.7 284.9 693.0 284.2"/>
<path d="M630.3 343.5C630.7 342.1 631.6 338.0 632.5 335.0C633.4 332.0 634.2 330.0 635.5 325.5C636.8 321.0 638.6 313.4 640.5 308.0C642.4 302.6 644.2 297.0 646.8 293.0C649.2 289.0 652.4 286.4 655.5 284.2C658.6 282.1 661.8 280.7 665.5 280.0C669.2 279.3 673.8 279.3 678.0 280.0C682.2 280.7 686.8 282.5 690.5 284.2C694.2 286.0 697.4 287.8 700.5 290.5C703.6 293.2 706.8 296.8 709.2 300.5C711.8 304.2 713.8 308.8 715.5 313.0C717.2 317.2 718.2 321.0 719.2 325.5C720.2 330.0 721.1 334.7 721.5 340.0C721.9 345.3 722.3 351.9 721.8 357.5C721.2 363.1 718.6 371.0 718.0 373.8"/>
<path d="M666.8 257.5C667.6 258.9 671.3 263.2 671.8 266.0C672.2 268.8 670.9 271.9 669.2 274.2C667.6 276.6 663.0 279.0 661.8 280.0"/>
<path d="M660.5 315.0C661.0 316.8 662.7 321.3 663.5 325.5C664.3 329.7 665.0 335.9 665.3 340.0C665.5 344.1 665.2 346.8 665.0 350.0C664.8 353.2 664.4 357.9 664.2 359.5"/>
<path d="M727.5 215.0C728.4 217.0 731.2 221.9 733.0 226.8C734.8 231.6 737.2 241.3 738.0 244.2L753.5 243.5"/>
<path d="M765.5 266.0C767.0 265.2 771.3 262.2 774.2 261.0C777.2 259.8 779.9 258.4 783.0 258.5C786.1 258.6 790.1 259.9 793.0 261.8C795.9 263.6 798.2 266.3 800.5 269.5C802.8 272.7 804.7 277.0 806.8 280.8C808.8 284.5 810.7 288.5 813.0 292.0C815.3 295.5 817.2 298.7 820.5 302.0C823.8 305.3 828.4 308.5 833.0 312.0C837.6 315.5 843.0 319.1 848.0 323.2C853.0 327.4 858.8 332.2 863.0 337.0C867.2 341.8 869.7 346.6 873.0 352.0C876.3 357.4 879.7 363.7 883.0 369.5C886.3 375.3 890.1 381.6 893.0 387.0C895.9 392.4 898.6 397.0 900.5 402.0C902.4 407.0 903.8 411.5 904.2 417.0C904.8 422.5 903.5 429.1 903.5 435.0C903.5 440.9 903.3 447.5 904.2 452.5C905.2 457.5 907.0 462.1 909.2 465.0C911.5 467.9 916.5 469.2 918.0 470.0"/>
<path d="M730.0 301.8C730.5 300.5 731.2 296.5 733.0 294.2C734.8 292.0 737.2 289.5 740.5 288.0C743.8 286.5 748.8 285.2 753.0 285.0C757.2 284.8 761.3 285.4 765.5 286.8C769.7 288.1 773.8 290.1 778.0 293.0C782.2 295.9 786.3 300.5 790.5 304.2C794.7 308.0 798.4 312.0 803.0 315.5C807.6 319.0 813.0 322.3 818.0 325.5C823.0 328.7 828.0 331.5 833.0 334.5C838.0 337.5 843.4 340.1 848.0 343.2C852.6 346.4 857.0 349.7 860.5 353.2C864.0 356.8 867.0 360.5 869.2 364.5C871.5 368.5 873.2 372.4 874.2 377.0C875.3 381.6 875.4 386.2 875.5 392.0C875.6 397.8 875.1 408.7 875.0 412.0C876.1 413.5 880.1 417.8 881.8 420.8C883.4 423.7 884.5 426.3 885.0 429.5C885.5 432.7 885.1 434.9 885.0 440.0C884.9 445.1 884.8 453.3 884.2 460.0C883.7 466.7 882.0 474.2 881.8 480.0C881.5 485.8 881.5 490.0 883.0 495.0C884.5 500.0 887.6 505.4 890.5 510.0C893.4 514.6 897.2 518.3 900.5 522.5C903.8 526.7 907.7 531.4 910.5 535.0C913.3 538.6 916.3 542.5 917.5 544.0"/>
<path d="M779.2 341.0L782.2 327.5"/>
<path d="M761.8 361.2C763.2 359.8 768.1 355.3 770.5 352.5C772.9 349.7 774.0 348.7 776.0 344.5C778.0 340.3 781.2 330.3 782.2 327.5C782.6 330.3 783.5 338.8 784.2 344.5C785.0 350.2 787.0 357.0 786.8 362.0C786.5 367.0 784.9 370.8 783.0 374.5C781.1 378.2 778.0 382.0 775.5 384.5C773.0 387.0 770.4 388.4 768.0 389.5C765.6 390.6 762.2 390.8 761.0 391.0"/>
<path d="M805.5 334.0C806.1 335.8 807.2 341.1 809.2 344.5C811.3 347.9 814.5 351.2 818.0 354.5C821.5 357.8 826.5 361.2 830.5 364.5C834.5 367.8 838.8 371.2 841.8 374.5C844.7 377.8 846.9 380.8 848.0 384.5C849.1 388.2 849.1 392.4 848.5 397.0C847.9 401.6 845.4 407.4 844.2 412.0C843.1 416.6 842.0 420.3 841.8 424.5C841.5 428.7 842.4 434.9 842.5 437.0"/>
<path d="M848.5 387.0C850.1 386.4 855.0 384.1 858.0 383.2C861.0 382.4 864.5 381.8 866.8 382.0C869.0 382.2 870.4 383.0 871.8 384.5C873.1 386.0 874.5 389.7 875.0 390.8"/>
<path d="M906.8 407.0C908.2 407.8 912.8 409.7 915.5 412.0C918.2 414.3 920.5 417.3 923.0 420.8C925.5 424.2 928.5 428.0 930.5 432.5C932.5 437.0 934.1 442.9 935.0 447.5C935.9 452.1 936.2 455.0 936.0 460.0C935.8 465.0 934.3 472.1 933.5 477.5C932.7 482.9 931.4 490.0 931.0 492.5"/>
<path d="M789.2 375.8C790.7 375.1 795.3 372.2 798.0 372.0C800.7 371.8 803.2 372.6 805.5 374.5C807.8 376.4 809.9 379.5 811.8 383.2C813.6 387.0 814.9 392.2 816.8 397.0C818.6 401.8 820.3 406.6 823.0 412.0C825.7 417.4 829.5 423.5 833.0 429.5C836.5 435.5 842.4 445.1 844.2 448.2"/>
<path d="M778.0 401.2C779.2 402.1 783.4 403.5 785.5 406.2C787.6 409.0 789.0 413.1 790.5 417.5C792.0 421.9 792.4 427.9 794.5 432.5C796.6 437.1 799.7 441.2 803.0 445.0C806.3 448.8 811.4 451.7 814.2 455.0C817.1 458.3 819.2 461.9 820.0 465.0C820.8 468.1 820.4 470.4 819.2 473.8C818.1 477.1 815.1 480.7 813.0 485.0C810.9 489.3 807.8 497.1 806.8 499.5"/>
<path d="M820.0 473.0C821.8 473.3 827.3 473.4 830.5 475.0C833.7 476.6 836.8 479.2 839.2 482.5C841.8 485.8 843.4 490.0 845.5 495.0C847.6 500.0 849.2 507.5 851.8 512.5C854.2 517.5 857.0 520.8 860.5 525.0C864.0 529.2 869.5 534.0 873.0 537.5C876.5 541.0 879.7 544.0 881.8 546.2C883.8 548.5 884.9 550.4 885.5 551.2"/>
<path d="M881.8 550.0C882.0 552.1 882.0 559.0 883.0 562.5C884.0 566.0 885.5 569.0 888.0 571.2C890.5 573.5 894.7 574.8 898.0 576.2C901.3 577.7 905.1 578.5 908.0 580.0C910.9 581.5 914.2 584.2 915.5 585.0"/>
<path d="M885.5 550.0C883.4 549.6 876.5 547.1 873.0 547.5C869.5 547.9 866.3 550.6 864.2 552.5C862.2 554.4 861.1 557.7 860.5 558.8"/>
<path d="M896.0 479.5C898.4 480.4 905.2 482.8 910.5 485.0C915.8 487.2 922.6 489.6 928.0 492.5C933.4 495.4 938.8 499.0 943.0 502.5C947.2 506.0 950.2 510.2 953.0 513.8C955.8 517.3 958.8 522.1 960.0 523.8"/>
<path d="M865.0 503.8C865.3 502.5 865.4 498.2 866.8 496.2C868.1 494.3 870.7 492.4 873.0 492.0C875.3 491.6 879.2 493.5 880.5 493.8"/>
<path d="M933.0 521.2C933.4 522.7 933.8 526.5 935.5 530.0C937.2 533.5 940.3 538.3 943.0 542.5C945.7 546.7 949.9 551.5 951.8 555.0C953.6 558.5 954.5 561.3 954.2 563.8C954.0 566.2 953.6 568.5 950.5 569.5C947.4 570.5 938.0 569.5 935.5 569.5"/>
<path d="M826.8 505.5C829.0 506.9 836.3 510.5 840.5 513.8C844.7 517.0 848.6 521.0 851.8 525.0C854.9 529.0 857.6 532.9 859.2 537.5C860.9 542.1 862.0 547.5 861.8 552.5C861.5 557.5 860.3 562.5 858.0 567.5C855.7 572.5 851.8 577.9 848.0 582.5C844.2 587.1 840.1 591.2 835.5 595.0C830.9 598.8 823.0 603.3 820.5 605.0"/>
<path d="M681.9 421.4C682.4 419.2 683.7 412.3 685.0 408.0C686.3 403.7 687.9 399.5 689.7 395.6C691.5 391.7 693.7 387.7 696.0 384.7C698.3 381.7 701.1 379.4 703.8 377.7C706.4 376.0 709.2 375.2 711.6 374.5C714.0 373.8 715.3 373.6 718.0 373.8C720.7 373.9 724.2 374.0 728.0 375.5C731.8 377.0 736.8 379.7 740.5 382.5C744.2 385.3 747.8 388.8 750.5 392.5C753.2 396.2 755.3 400.4 756.8 405.0C758.2 409.6 758.8 414.2 759.2 420.0C759.7 425.8 759.1 434.2 759.2 440.0C759.4 445.8 759.2 450.8 760.0 455.0C760.8 459.2 762.5 461.7 764.2 465.0C766.0 468.3 769.0 471.2 770.5 475.0C772.0 478.8 772.0 484.0 773.0 487.5C774.0 491.0 774.2 493.5 776.8 496.2C779.2 499.0 784.0 501.2 788.0 503.8C792.0 506.2 797.0 508.8 800.5 511.2C804.0 513.8 807.1 515.8 809.2 518.8C811.4 521.7 813.0 525.2 813.5 528.8C814.0 532.3 813.6 536.7 812.5 540.0C811.4 543.3 808.4 545.8 806.8 548.8C805.1 551.7 803.1 554.4 802.5 557.5C801.9 560.6 801.7 563.8 803.0 567.5C804.3 571.2 809.2 577.9 810.5 580.0"/>
<path d="M748.5 475.5C747.2 476.7 743.1 479.2 740.5 482.5C737.9 485.8 735.5 490.4 733.0 495.0C730.5 499.6 728.4 505.0 725.5 510.0C722.6 515.0 719.2 520.8 715.5 525.0C711.8 529.2 708.0 532.5 703.0 535.0C698.0 537.5 691.2 539.0 685.5 540.0C679.8 541.0 671.3 540.6 668.5 540.8"/>
<path d="M288.5 633.8C288.7 632.3 289.1 629.4 289.8 625.0C290.4 620.6 290.8 613.3 292.2 607.5C293.7 601.7 295.8 595.3 298.5 590.0C301.2 584.7 304.8 580.3 308.5 575.5C312.2 570.7 316.4 565.4 321.0 561.0C325.6 556.6 330.8 552.7 336.0 549.0C341.2 545.3 346.0 542.8 352.0 539.0C358.0 535.2 364.5 530.8 372.0 526.0C379.5 521.2 388.7 515.2 397.0 510.0C405.3 504.8 413.7 499.8 422.0 495.0C430.3 490.2 438.7 485.4 447.0 481.2C455.3 477.1 464.1 473.1 472.0 470.0C479.9 466.9 487.4 464.5 494.5 462.5C501.6 460.5 507.4 459.3 514.5 458.2C521.6 457.2 529.6 456.7 537.0 456.2C544.4 455.8 551.4 455.6 559.0 455.6C566.6 455.6 574.7 455.8 582.5 456.4C590.3 457.0 598.2 458.6 606.0 459.5C613.8 460.4 621.4 461.3 629.4 461.9C637.4 462.4 645.8 462.7 653.8 462.8C661.7 462.9 670.7 463.0 677.2 462.5C683.7 462.0 688.1 461.2 692.8 459.7C697.5 458.2 701.6 455.8 705.3 453.4C708.9 451.0 711.7 447.9 714.7 445.6C717.7 443.3 722.0 440.5 723.5 439.5"/>
<path d="M413.2 450.0C415.5 449.4 421.4 447.4 427.0 446.2C432.6 445.1 440.3 443.4 447.0 443.0C453.7 442.6 460.3 442.8 467.0 443.8C473.7 444.7 481.2 446.7 487.0 448.8C492.8 450.8 498.0 453.5 502.0 456.2C506.0 459.0 508.7 461.9 510.8 465.0C512.8 468.1 513.9 473.3 514.5 475.0"/>
<path d="M631.7 342.4C632.2 340.7 633.8 335.7 635.0 332.0C636.2 328.3 638.3 322.0 639.0 320.0"/>
<path d="M107.2 447.5C107.4 449.6 107.2 455.8 108.0 460.0C108.8 464.2 110.3 468.5 112.2 472.5C114.2 476.5 116.8 480.4 119.8 483.8C122.7 487.1 126.0 490.0 129.8 492.5C133.5 495.0 138.1 496.9 142.2 498.8C146.4 500.6 151.7 502.7 154.8 503.8C157.8 504.8 159.5 504.8 160.5 505.0"/>
<path d="M141.0 401.2C138.9 402.7 132.5 406.9 128.5 410.0C124.5 413.1 120.4 416.7 117.2 420.0C114.1 423.3 111.6 427.1 109.8 430.0C107.9 432.9 106.6 436.2 106.0 437.5"/>
<path d="M151.5 344.5C150.8 346.7 148.0 352.8 147.2 357.5C146.5 362.2 146.6 367.5 147.2 372.5C147.9 377.5 148.9 382.7 151.0 387.5C153.1 392.3 156.6 397.5 159.8 401.2C162.9 405.0 167.0 407.8 169.8 410.0C172.5 412.2 175.4 413.8 176.5 414.5"/>
<path d="M177.2 348.0C178.7 349.1 182.7 352.9 186.0 354.5C189.3 356.1 193.7 357.5 197.2 357.5C200.8 357.5 203.7 356.6 207.2 354.5C210.8 352.4 216.6 346.6 218.5 345.0"/>
<path d="M268.5 336.8C268.9 337.3 270.0 337.8 271.0 340.0C272.0 342.2 274.5 346.2 274.8 350.0C275.0 353.8 274.1 358.3 272.2 362.5C270.4 366.7 267.5 371.2 263.5 375.0C259.5 378.8 254.3 381.9 248.5 385.0C242.7 388.1 235.2 390.8 228.5 393.8C221.8 396.7 214.3 399.6 208.5 402.5C202.7 405.4 197.9 408.1 193.5 411.2C189.1 414.4 185.2 417.7 182.2 421.2C179.3 424.8 177.5 428.5 176.0 432.5C174.5 436.5 173.7 440.8 173.5 445.0C173.3 449.2 174.4 454.5 174.8 457.5C175.1 460.5 175.4 462.1 175.5 463.0C174.3 463.3 171.3 464.7 168.5 465.0C165.7 465.3 161.8 465.8 158.5 465.0C155.2 464.2 151.4 461.9 148.5 460.0C145.6 458.1 143.3 455.9 141.0 453.8C138.7 451.6 135.8 448.1 134.8 447.0"/>
<path d="M269.8 377.0C271.6 378.8 277.2 383.7 281.0 387.5C284.8 391.3 289.1 395.6 292.2 400.0C295.4 404.4 297.9 408.8 299.8 413.8C301.6 418.8 302.9 427.3 303.5 430.0"/>
<path d="M249.0 408.8C248.3 410.0 246.9 414.2 244.8 416.2C242.6 418.3 239.5 419.8 236.0 421.2C232.5 422.7 227.5 423.8 223.5 425.0C219.5 426.2 215.2 427.1 212.2 428.8C209.2 430.4 206.9 432.7 205.5 435.0C204.1 437.3 203.9 439.8 204.0 442.5C204.1 445.2 205.7 449.8 206.0 451.2"/>
<path d="M326.5 445.0C326.4 446.5 326.9 450.6 326.0 453.8C325.1 456.9 323.1 460.2 321.0 463.8C318.9 467.3 314.8 473.1 313.5 475.0"/>
<path d="M259.8 475.0C261.2 476.7 265.0 482.1 268.5 485.0C272.0 487.9 276.4 490.2 281.0 492.5C285.6 494.8 291.4 496.7 296.0 498.8C300.6 500.8 305.0 502.5 308.5 505.0C312.0 507.5 314.8 510.4 317.2 513.8C319.8 517.1 322.5 523.1 323.5 525.0"/>
<path d="M158.0 475.5C157.5 477.5 155.3 483.6 154.8 487.5C154.2 491.4 154.3 495.6 154.8 498.8C155.2 501.9 155.8 502.9 157.2 506.2C158.7 509.6 161.4 514.2 163.5 518.8C165.6 523.3 167.7 529.0 169.8 533.8C171.8 538.5 173.7 542.7 176.0 547.5C178.3 552.3 180.6 557.5 183.5 562.5C186.4 567.5 189.8 572.9 193.5 577.5C197.2 582.1 201.4 586.2 206.0 590.0C210.6 593.8 215.6 597.3 221.0 600.0C226.4 602.7 233.1 604.9 238.5 606.2C243.9 607.6 249.3 608.2 253.5 608.0C257.7 607.8 260.6 606.8 263.5 605.0C266.4 603.2 268.5 600.2 271.0 597.5C273.5 594.8 276.4 591.2 278.5 588.8C280.6 586.3 282.7 584.0 283.5 583.0"/>
<path d="M177.2 502.0C178.1 503.3 179.5 508.0 182.2 510.0C185.0 512.0 190.4 511.7 193.5 513.8C196.6 515.8 198.9 519.0 201.0 522.5C203.1 526.0 204.8 531.2 206.0 535.0C207.2 538.8 208.1 543.3 208.5 545.0C210.2 542.9 215.0 536.0 218.5 532.5C222.0 529.0 225.6 525.8 229.8 523.8C233.9 521.8 238.3 520.6 243.5 520.5C248.7 520.4 254.8 521.6 261.0 523.0C267.2 524.4 274.3 527.0 281.0 528.8C287.7 530.5 295.2 531.9 301.0 533.8C306.8 535.6 312.2 537.5 316.0 540.0C319.8 542.5 322.2 545.8 323.5 548.8C324.8 551.7 324.8 554.6 324.0 557.5C323.2 560.4 321.1 563.8 318.5 566.2C315.9 568.8 312.7 570.8 308.5 572.5C304.3 574.2 298.9 575.5 293.5 576.2C288.1 577.0 281.4 576.9 276.0 577.0C270.6 577.1 265.8 576.5 261.0 577.0C256.2 577.5 249.5 579.5 247.2 580.0"/>
<path d="M129.8 495.5C128.7 497.1 124.8 501.3 123.5 505.0C122.2 508.7 121.8 513.3 122.2 517.5C122.7 521.7 124.1 525.8 126.0 530.0C127.9 534.2 131.0 538.5 133.5 542.5C136.0 546.5 138.9 550.6 141.0 553.8C143.1 556.9 145.2 560.0 146.0 561.2"/>
<path d="M124.8 537.5C123.7 538.3 119.9 540.6 118.5 542.5C117.1 544.4 116.5 546.7 116.5 548.8C116.5 550.8 118.2 554.0 118.5 555.0"/>
<path d="M146.0 578.8C147.7 578.1 152.2 575.8 156.0 575.0C159.8 574.2 163.9 573.8 168.5 574.2C173.1 574.7 181.0 577.0 183.5 577.5"/>
<path d="M135.5 596.2C137.2 595.9 142.6 594.4 146.0 594.2C149.4 594.1 152.2 594.1 156.0 595.5C159.8 596.9 164.3 600.2 168.5 602.5C172.7 604.8 176.8 607.9 181.0 609.5C185.2 611.1 188.7 612.0 193.5 612.0C198.3 612.0 207.0 609.9 209.8 609.5"/>
<path d="M367.0 568.0C365.8 570.2 361.7 577.6 359.5 581.2C357.3 584.9 356.0 585.7 353.7 590.0C351.4 594.3 347.9 601.2 345.8 607.2C343.7 613.2 341.8 619.1 340.8 625.8C339.8 632.5 339.8 640.3 339.6 647.3C339.4 654.3 339.2 662.3 339.8 668.0C340.4 673.7 340.9 678.0 342.9 681.7C344.8 685.4 347.4 687.8 351.5 690.3C355.6 692.8 361.4 694.9 367.3 696.7C373.2 698.5 383.4 700.3 386.6 701.0"/>
<path d="M488.2 627.0C490.5 627.7 498.0 629.1 502.0 631.2C506.0 633.4 509.6 636.9 512.0 640.0C514.4 643.1 516.1 646.7 516.5 650.0C516.9 653.3 516.1 656.9 514.5 660.0C512.9 663.1 510.5 666.2 507.0 668.8C503.5 671.3 495.5 674.4 493.2 675.5"/>
<path d="M368.2 732.5C369.7 732.7 374.1 734.0 377.0 733.8C379.9 733.5 383.2 732.5 385.8 731.2C388.2 730.0 390.2 728.2 392.0 726.2C393.8 724.3 395.8 720.6 396.5 719.5"/>
<path d="M414.5 721.2C416.0 720.2 420.8 717.7 423.2 715.0C425.8 712.3 427.8 709.2 429.5 705.0C431.2 700.8 432.4 695.8 433.2 690.0C434.1 684.2 434.4 676.2 434.5 670.0C434.6 663.8 434.1 655.4 434.0 652.5"/>
<path d="M431.5 628.8C432.6 629.8 436.8 632.7 438.2 635.0C439.7 637.3 440.4 639.8 440.0 642.5C439.6 645.2 436.5 649.8 435.8 651.2C438.0 650.2 445.5 647.1 449.5 645.0C453.5 642.9 457.0 640.4 459.5 638.8C462.0 637.1 463.7 635.6 464.5 635.0"/>
<path d="M414.5 581.2C412.4 582.5 406.6 586.5 402.0 588.8C397.4 591.0 391.2 592.9 387.0 595.0C382.8 597.1 379.4 598.3 377.0 601.2C374.6 604.2 373.3 608.1 372.5 612.5C371.7 616.9 372.1 622.7 372.0 627.5C371.9 632.3 372.0 639.0 372.0 641.2"/>
<path d="M539.5 587.0C540.5 588.8 544.6 593.9 545.8 597.5C546.9 601.1 547.1 605.0 546.5 608.8C545.9 612.5 543.8 615.6 542.0 620.0C540.2 624.4 536.8 632.5 535.8 635.0"/>
<path d="M587.0 597.0C586.6 598.5 586.0 603.8 584.5 606.2C583.0 608.8 580.6 611.0 578.2 612.0C575.9 613.0 571.6 612.4 570.2 612.5"/>
<path d="M592.5 651.5C593.8 650.5 597.1 647.3 600.0 645.5C602.9 643.7 606.7 642.0 610.0 640.5C613.3 639.0 616.6 637.5 620.0 636.5C623.4 635.5 626.2 634.7 630.5 634.3C634.8 633.9 640.9 633.8 645.5 634.3C650.1 634.8 653.8 635.6 658.0 637.0C662.2 638.4 668.4 641.6 670.5 642.5"/>
<path d="M718.0 585.5C719.7 586.7 725.1 589.5 728.0 592.5C730.9 595.5 733.8 600.0 735.5 603.8C737.2 607.5 738.1 611.5 738.5 615.0C738.9 618.5 738.1 623.3 738.0 625.0"/>
<path d="M623.5 565.0C625.5 565.4 631.0 566.0 635.5 567.5C640.0 569.0 645.5 571.5 650.5 573.8C655.5 576.0 660.5 579.2 665.5 581.2C670.5 583.3 675.5 585.2 680.5 586.2C685.5 587.3 690.1 587.7 695.5 587.5C700.9 587.3 707.6 586.7 713.0 585.0C718.4 583.3 723.4 580.4 728.0 577.5C732.6 574.6 736.3 571.0 740.5 567.5C744.7 564.0 748.8 559.8 753.0 556.2C757.2 552.7 760.5 549.7 765.5 546.2C770.5 542.8 780.1 537.3 783.0 535.5"/>
</g>
<g fill="none" stroke="#231f20" stroke-width="5.4">
<path d="M810.0 100.0L681.0 310.0"/>
<path d="M393.2 481.2L169.5 801.5"/>
</g>
<text transform="translate(655.6 87) scale(0.8294 1)" font-size="46" stroke="#231f20" stroke-width="0.45">Right Hemisphere</text>
<text transform="translate(52.05 849.6) scale(0.8336 1)" font-size="46.2" stroke="#231f20" stroke-width="0.45">Hippocampus</text>
</svg></body></html>
